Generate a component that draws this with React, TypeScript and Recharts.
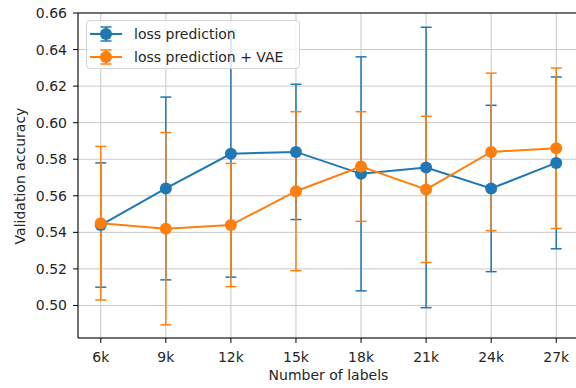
import React from 'react';
import {
  CartesianGrid,
  ErrorBar,
  Legend,
  Line,
  LineChart,
  ReferenceLine,
  XAxis,
  YAxis,
} from 'recharts';

// number of labels (thousands)
const labelCounts = [6, 9, 12, 15, 18, 21, 24, 27];
const yTicks = [0.5, 0.52, 0.54, 0.56, 0.58, 0.6, 0.62, 0.64, 0.66];

const lossPrediction = [0.544, 0.564, 0.583, 0.584, 0.572, 0.5755, 0.564, 0.578];
const lossPredictionErr = [0.034, 0.05, 0.0675, 0.037, 0.064, 0.0767, 0.0455, 0.047];

const lossPredictionVae = [0.545, 0.542, 0.544, 0.5625, 0.576, 0.5635, 0.584, 0.586];
const lossPredictionVaeErr = [0.042, 0.0526, 0.0337, 0.0435, 0.03, 0.04, 0.0431, 0.0439];

const series = [
  { key: 'lp', errKey: 'lpErr', name: 'loss prediction', color: '#1f77b4' },
  { key: 'vae', errKey: 'vaeErr', name: 'loss prediction + VAE', color: '#ff7f0e' },
];

const data = labelCounts.map((k, i) => ({
  k,
  lp: lossPrediction[i],
  lpErr: lossPredictionErr[i],
  vae: lossPredictionVae[i],
  vaeErr: lossPredictionVaeErr[i],
}));

const FONT = '"DejaVu Sans", sans-serif';
const TEXT = '#262626';

function LegendBox() {
  return (
    <div
      style={{
        position: 'relative',
        width: 214,
        height: 49,
        boxSizing: 'border-box',
        border: '1px solid #d4d4d4',
        borderRadius: 4,
        background: 'rgba(255,255,255,0.8)',
        fontFamily: FONT,
        fontSize: 14,
        color: TEXT,
      }}
    >
      {series.map((s, i) => (
        <div
          key={s.key}
          style={{ position: 'absolute', left: 0, top: 2 + i * 23, height: 22, display: 'flex', alignItems: 'center' }}
        >
          <svg width={44} height={22} style={{ display: 'block' }}>
            <line x1={3} x2={35} y1={11} y2={11} stroke={s.color} strokeWidth={2} />
            <line x1={19} x2={19} y1={4} y2={18} stroke={s.color} strokeWidth={1.5} />
            <line x1={13.5} x2={24.5} y1={4} y2={4} stroke={s.color} strokeWidth={1.5} />
            <line x1={13.5} x2={24.5} y1={18} y2={18} stroke={s.color} strokeWidth={1.5} />
            <circle cx={19} cy={11} r={6} fill={s.color} />
          </svg>
          <span style={{ marginLeft: 3, whiteSpace: 'nowrap' }}>{s.name}</span>
        </div>
      ))}
    </div>
  );
}

function YLabel() {
  return (
    <text
      x={25}
      y={176}
      transform="rotate(-90, 25, 176)"
      textAnchor="middle"
      fontFamily={FONT}
      fontSize={14}
      fill={TEXT}
    >
      Validation accuracy
    </text>
  );
}

function XLabel() {
  return (
    <text x={328.5} y={380} textAnchor="middle" fontFamily={FONT} fontSize={14} fill={TEXT}>
      Number of labels
    </text>
  );
}

export default function App() {
  return (
    <div
      style={{
        position: 'fixed',
        left: 0,
        top: 0,
        width: 576,
        height: 388,
        overflow: 'hidden',
        background: '#fff',
      }}
    >
      <LineChart width={579} height={388} data={data} margin={{ top: 13, right: 0, bottom: 0, left: 0 }}>
        <CartesianGrid stroke="#c8c8c8" strokeWidth={1} />
        <XAxis
          dataKey="k"
          type="number"
          domain={[4.95, 28.05]}
          ticks={labelCounts}
          allowDataOverflow
          tickFormatter={(v: number) => `${v}k`}
          height={50}
          tickSize={5}
          tickMargin={9}
          stroke="#000"
          tick={{ fill: TEXT, fontFamily: FONT, fontSize: 14 }}
          label={{ content: () => <XLabel /> }}
        />
        <YAxis
          type="number"
          domain={[0.4822, 0.66]}
          ticks={yTicks}
          allowDataOverflow
          tickFormatter={(v: number) => v.toFixed(2)}
          width={78}
          tickSize={5}
          tickMargin={6}
          stroke="#000"
          tick={{ fill: TEXT, fontFamily: FONT, fontSize: 14 }}
          label={{ content: () => <YLabel /> }}
        />
        <ReferenceLine y={0.66} stroke="#000" strokeWidth={1} />
        {series.map((s) => (
          <Line
            key={s.key}
            dataKey={s.key}
            name={s.name}
            stroke={s.color}
            strokeWidth={2}
            dot={{ r: 6, fill: s.color, stroke: s.color, strokeWidth: 0 }}
            activeDot={false}
            isAnimationActive={false}
          >
            <ErrorBar dataKey={s.errKey} direction="y" width={5.5} stroke={s.color} strokeWidth={1.5} />
          </Line>
        ))}
        <Legend
          layout="horizontal"
          verticalAlign="middle"
          align="center"
          content={() => <LegendBox />}
          wrapperStyle={{ top: 20, left: 86, width: 214, height: 49 }}
        />
      </LineChart>
    </div>
  );
}
